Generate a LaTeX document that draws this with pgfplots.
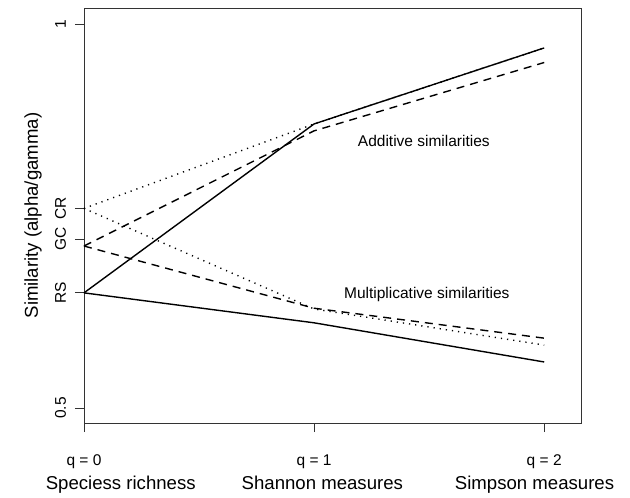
\documentclass[border=0pt]{standalone}
\usepackage{fontspec}
\setmainfont{Liberation Sans}
\usepackage{pgfplots}
\pgfplotsset{compat=1.18}
\begin{document}
\fontsize{15.5bp}{18bp}\selectfont
\begin{tikzpicture}
\begin{axis}[
  scale only axis, width=497bp, height=415bp,
  xmin=0, xmax=2.16, ymin=0.4805, ymax=1.021,
  axis line style={black!80, line width=0.9bp},
  tick style={black!80, line width=0.9bp},
  tick align=outside, major tick length=9bp,
  xtick pos=bottom, ytick pos=left,
  xtick={0,1,2},
  xticklabels={q = 0,q = 1,q = 2},
  xticklabel style={anchor=north, inner sep=0pt, yshift=-22.5bp},
  ytick={0.5,0.65,0.72,0.76,1},
  yticklabels={0.5,RS,GC,CR,1},
  yticklabel style={xshift=-9bp, rotate=90, anchor=base, inner sep=0pt},
  xlabel={Speciess richness\hspace{46bp}Shannon measures\hspace{52bp}Simpson measures},
  xlabel style={at={(axis description cs:0.495,-0.1614)}, anchor=base, inner sep=0pt, font=\fontsize{18.6bp}{22bp}\selectfont},
  ylabel={Similarity (alpha/gamma)},
  ylabel style={at={(axis description cs:-0.1026,0.5)}, anchor=center, rotate=0, inner sep=0pt, font=\fontsize{18.6bp}{22bp}\selectfont},
  /pgf/number format/assume math mode=true,
  clip=false,
]
% additive
\addplot[black, line width=1.4bp, dash pattern=on 1.2bp off 5bp] coordinates {(0,0.760) (1,0.870) (2,0.969)};
\addplot[black, line width=1.4bp, dash pattern=on 8bp off 6bp] coordinates {(0,0.711) (1,0.861) (2,0.950)};
\addplot[black, line width=1.4bp] coordinates {(0,0.650) (1,0.870) (2,0.969)};
% multiplicative
\addplot[black, line width=1.4bp, dash pattern=on 1.2bp off 5bp] coordinates {(0,0.760) (1,0.629) (2,0.582)};
\addplot[black, line width=1.4bp, dash pattern=on 8bp off 6bp] coordinates {(0,0.711) (1,0.630) (2,0.591)};
\addplot[black, line width=1.4bp] coordinates {(0,0.650) (1,0.611) (2,0.560)};
\node[font=\fontsize{15.5bp}{18bp}\selectfont] at (axis cs:1.477,0.8477) {Additive similarities};
\node[font=\fontsize{15.5bp}{18bp}\selectfont] at (axis cs:1.49,0.6484) {Multiplicative similarities};
\coordinate (bbsw) at (axis description cs:-0.169,-0.1807);
\coordinate (bbne) at (axis description cs:1.0986,1.0193);
\end{axis}
\pgfresetboundingbox
\path[use as bounding box] (bbsw) rectangle (bbne);
\end{tikzpicture}
\end{document}
